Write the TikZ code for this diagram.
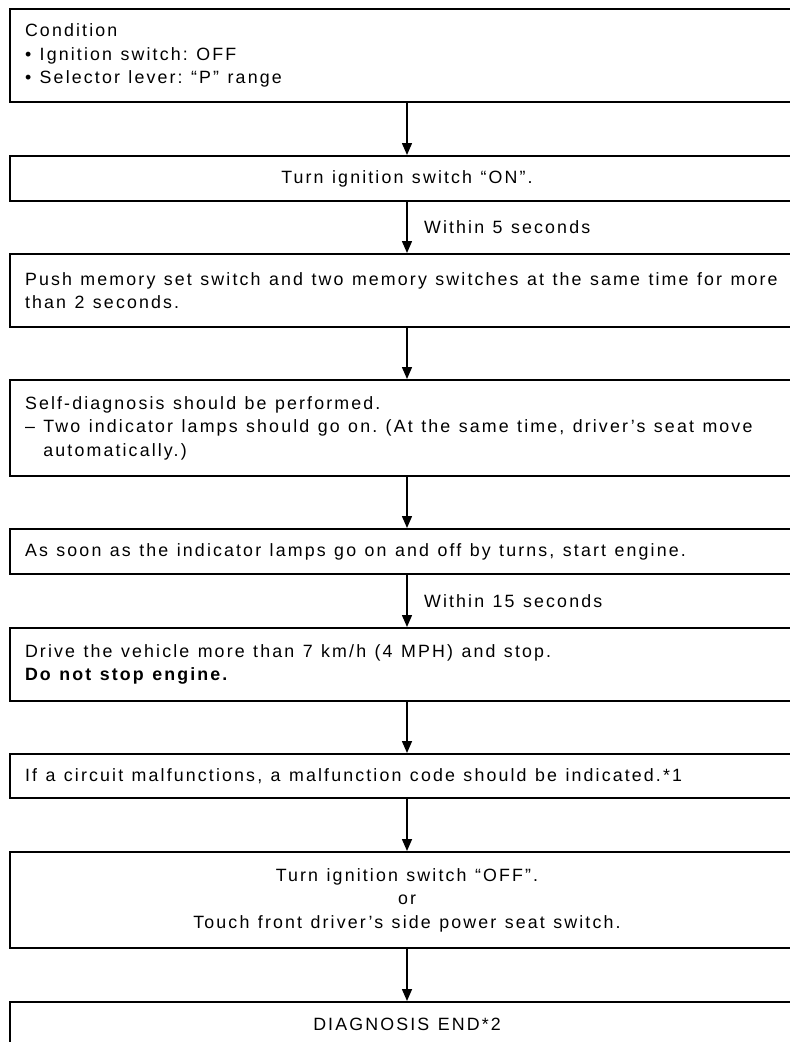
\documentclass[tikz,border=0pt]{standalone}
\usepackage{fontspec}
\setmainfont[LetterSpace=12]{Liberation Sans}
\usetikzlibrary{arrows.meta}

\newcommand{\boxfont}{\fontsize{17.8}{23.5}\selectfont}
\newcommand{\widespace}{\spaceskip = 8.5pt\xspaceskip = 8.5pt\relax}
\tikzstyle{block} = [draw, line width = 2pt, inner xsep = 15pt, text width = 764pt, align = left, font = \boxfont, execute at begin node = \widespace]
\tikzstyle{centred} = [block, align = center]
\tikzstyle{flow} = [-{Triangle[length = 12pt, width = 10pt]}, line width = 1.5pt]
\tikzstyle{note} = [right, xshift = 13pt, font = \boxfont, execute at begin node = \widespace]

\begin{document}
\begin{tikzpicture}[x = 1pt, y = -1pt]
		\useasboundingbox (0, 0) rectangle (790, 1042);

		\node [block, minimum height = 93pt] at (407, 55.5) (1) {Condition\\ \textbullet\ Ignition switch: OFF\\ \textbullet\ Selector lever: “P” range};
		\node [centred, minimum height = 45pt] at (407, 178.5) (2) {Turn ignition switch “ON”.};
		\node [block, minimum height = 73pt] at (407, 290.5) (3) {Push memory set switch and two memory switches at the same time for more\\ than 2 seconds.};
		\node [block, minimum height = 96pt] at (407, 428) (4) {Self-diagnosis should be performed.\\ – Two indicator lamps should go on. (At the same time, driver’s seat move\\ \hphantom{– }automatically.)};
		\node [block, minimum height = 45pt] at (407, 551.5) (5) {As soon as the indicator lamps go on and off by turns, start engine.};
		\node [block, minimum height = 73pt] at (407, 664.5) (6) {Drive the vehicle more than 7 km/h (4 MPH) and stop.\\ \textbf{Do not stop engine.}};
		\node [block, minimum height = 44pt] at (407, 776) (7) {If a circuit malfunctions, a malfunction code should be indicated.*1};
		\node [centred, minimum height = 96pt] at (407, 900) (8) {Turn ignition switch “OFF”.\\ or\\ Touch front driver’s side power seat switch.};
		\node [centred, minimum height = 45pt] at (407, 1024.5) (9) {DIAGNOSIS END*2};

		\draw [flow] (1) -- (2);
		\draw [flow] (2) -- node [note] {Within 5 seconds} (3);
		\draw [flow] (3) -- (4);
		\draw [flow] (4) -- (5);
		\draw [flow] (5) -- node [note] {Within 15 seconds} (6);
		\draw [flow] (6) -- (7);
		\draw [flow] (7) -- (8);
		\draw [flow] (8) -- (9);
\end{tikzpicture}
\end{document}
